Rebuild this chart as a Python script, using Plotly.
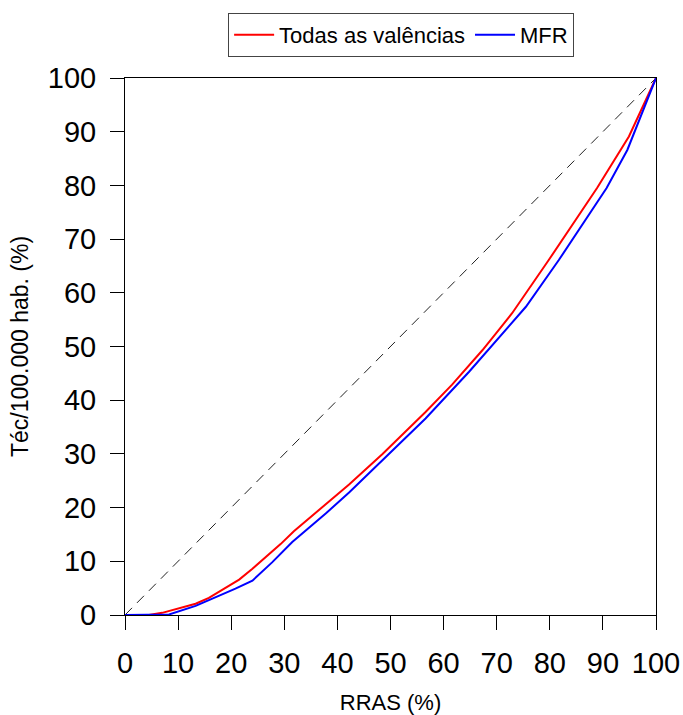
import plotly.graph_objects as go

# Data (cumulative %)
todas_x = [0, 4.5, 7.0, 13.3, 15.8, 19.0, 21.5, 24.0, 27.1, 29.3, 31.8, 34.7, 37.8, 42.2,
           48.5, 56.6, 61.6, 67.3, 70.4, 72.9, 79.8, 88.9, 94.9, 100]
todas_y = [0, 0, 0.4, 2.1, 3.2, 5.1, 6.6, 8.6, 11.2, 13.2, 15.6, 18.0, 20.6, 24.3,
           30.0, 37.8, 42.9, 49.3, 53.1, 56.2, 66.1, 79.5, 89.1, 100]

mfr_x = [0, 8.3, 13.3, 17.7, 20.8, 24.0, 27.7, 31.5, 34.7, 37.8, 42.2, 48.5, 56.6,
         64.8, 70.4, 75.5, 81.7, 90.7, 94.6, 100]
mfr_y = [0, 0.1, 1.7, 3.5, 4.9, 6.4, 9.8, 13.6, 16.3, 18.9, 22.8, 28.9, 36.6,
         45.3, 51.6, 57.4, 66.1, 79.5, 86.6, 100]

equal_x = [0, 100]
equal_y = [0, 100]

tick_vals = [0, 10, 20, 30, 40, 50, 60, 70, 80, 90, 100]
tick_text = [str(v) for v in tick_vals]

FONT = "Liberation Sans, Arial, sans-serif"

fig = go.Figure()
fig.add_trace(go.Scatter(x=equal_x, y=equal_y, mode="lines", showlegend=False,
                         line=dict(color="#222222", width=1, dash="10px,7px"),
                         hoverinfo="skip"))
fig.add_trace(go.Scatter(x=todas_x, y=todas_y, mode="lines", name="Todas as valências",
                         line=dict(color="#ff0000", width=2)))
fig.add_trace(go.Scatter(x=mfr_x, y=mfr_y, mode="lines", name="MFR",
                         line=dict(color="#0000ff", width=2)))

axis_common = dict(
    range=[0, 100], tickmode="array", tickvals=tick_vals, ticktext=tick_text,
    showgrid=False, zeroline=False, showline=True, linecolor="black", linewidth=1,
    mirror=True, ticks="outside", tickcolor="black", tickwidth=1,
    tickfont=dict(family=FONT, size=29, color="black"),
)

fig.update_layout(
    width=683, height=715,
    margin=dict(l=125, r=27, t=78, b=100, autoexpand=False),
    paper_bgcolor="white", plot_bgcolor="white",
    font=dict(family=FONT, color="black"),
    xaxis=dict(**axis_common, ticklen=14, ticklabelstandoff=8,
               title=dict(text="RRAS (%)", font=dict(family=FONT, size=22), standoff=16)),
    yaxis=dict(**axis_common, ticklen=14, ticklabelstandoff=8,
               title=dict(text="Téc/100.000 hab. (%)", font=dict(family=FONT, size=23), standoff=12)),
    legend=dict(orientation="h", x=0.52, xanchor="center", y=1.121, yanchor="top",
                bordercolor="#444444", borderwidth=1, bgcolor="white",
                font=dict(family=FONT, size=22, color="black"),
                itemwidth=40, tracegroupgap=0),
    showlegend=True,
)

fig.write_html(
    "out.html",
    config={"displayModeBar": False},
    post_script="document.body.style.margin='0';document.body.style.overflow='hidden';",
)
